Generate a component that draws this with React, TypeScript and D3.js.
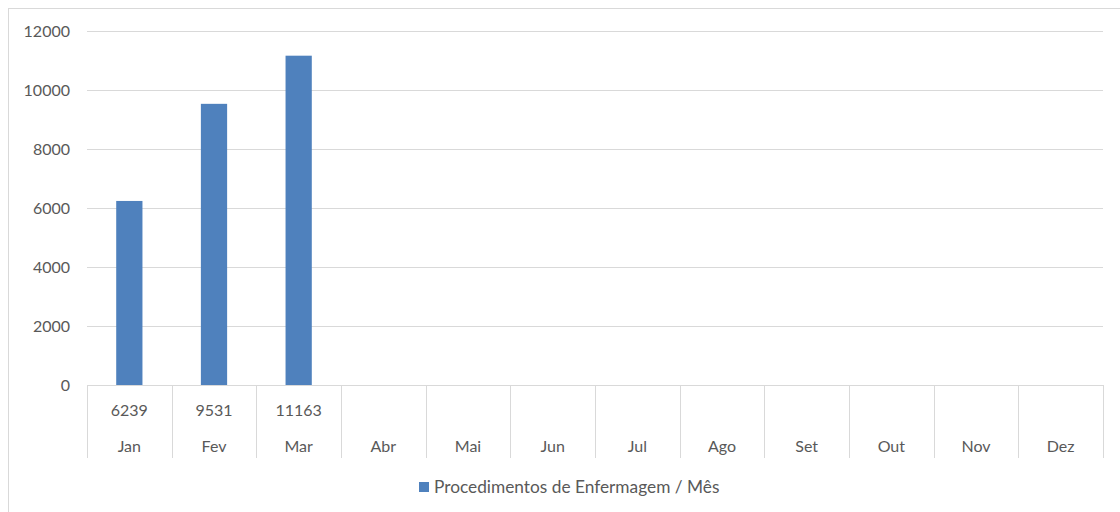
import { useRef, useEffect } from "react";
import * as d3 from "d3";

const months = ["Jan", "Fev", "Mar", "Abr", "Mai", "Jun", "Jul", "Ago", "Set", "Out", "Nov", "Dez"];
const procedures: (number | null)[] = [6239, 9531, 11163, null, null, null, null, null, null, null, null, null];
const yTicks = [0, 2000, 4000, 6000, 8000, 10000, 12000];
const seriesName = "Procedimentos de Enfermagem / Mês";

const width = 1120;
const height = 512;
const FONT = "Lato, 'Open Sans', sans-serif";
const TEXT = "#595959";
const GRID = "#D9D9D9";
const BAR = "#4F81BD";

export default function App() {
  const svgRef = useRef<SVGSVGElement>(null);

  useEffect(() => {
    if (!svgRef.current) return;
    const svg = d3.select(svgRef.current);
    svg.selectAll("*").remove();

    const plot = { left: 87, right: 1103, top: 31, bottom: 385 };
    const tableBottom = 458;

    // outer frame of the chart
    svg.append("rect")
      .attr("x", 8.5).attr("y", 8.5)
      .attr("width", width + 20).attr("height", height + 20)
      .attr("fill", "#fff").attr("stroke", GRID);

    const x = d3.scaleBand<string>()
      .domain(months)
      .range([plot.left, plot.right])
      .paddingInner(0.69)
      .paddingOuter(0.345);
    const xCat = d3.scaleBand<string>().domain(months).range([plot.left, plot.right]);

    const y = d3.scaleLinear().domain([0, 12000]).range([plot.bottom, plot.top]);

    // grid lines
    svg.append("g")
      .selectAll("line")
      .data(yTicks)
      .join("line")
      .attr("x1", plot.left)
      .attr("x2", plot.right)
      .attr("y1", d => Math.round(y(d)) + 0.5)
      .attr("y2", d => Math.round(y(d)) + 0.5)
      .attr("stroke", GRID)
      .attr("stroke-width", 1);

    svg.append("g")
      .selectAll("text")
      .data(yTicks)
      .join("text")
      .attr("x", 70)
      .attr("y", d => y(d))
      .attr("dy", "0.35em")
      .attr("text-anchor", "end")
      .attr("fill", TEXT)
      .attr("font-family", FONT)
      .attr("font-size", 16)
      .text(d => `${d}`);

    // bars
    const barData = months.map((m, i) => ({ m, v: procedures[i] })).filter(d => d.v != null) as { m: string; v: number }[];
    svg.append("g")
      .selectAll("rect")
      .data(barData)
      .join("rect")
      .attr("x", d => x(d.m)!)
      .attr("y", d => y(d.v))
      .attr("width", x.bandwidth())
      .attr("height", d => y(0) - y(d.v))
      .attr("fill", BAR);

    // data table vertical lines
    const bounds = months.map(m => xCat(m)!).concat([plot.right]);
    svg.append("g")
      .selectAll("line")
      .data(bounds)
      .join("line")
      .attr("x1", d => Math.round(d) + 0.5)
      .attr("x2", d => Math.round(d) + 0.5)
      .attr("y1", plot.bottom)
      .attr("y2", tableBottom)
      .attr("stroke", GRID);

    // data table values
    svg.append("g")
      .selectAll("text")
      .data(months)
      .join("text")
      .attr("x", d => xCat(d)! + xCat.bandwidth() / 2)
      .attr("y", 416)
      .attr("text-anchor", "middle")
      .attr("fill", TEXT)
      .attr("font-family", FONT)
      .attr("font-size", 16)
      .text((d, i) => (procedures[i] == null ? "" : `${procedures[i]}`));

    // month labels
    svg.append("g")
      .selectAll("text")
      .data(months)
      .join("text")
      .attr("x", d => xCat(d)! + xCat.bandwidth() / 2)
      .attr("y", 452)
      .attr("text-anchor", "middle")
      .attr("fill", TEXT)
      .attr("font-family", FONT)
      .attr("font-size", 16)
      .text(d => d);

    // legend
    svg.append("rect")
      .attr("x", 419).attr("y", 482)
      .attr("width", 10).attr("height", 10)
      .attr("fill", BAR);
    svg.append("text")
      .attr("x", 434)
      .attr("y", 493)
      .attr("fill", TEXT)
      .attr("font-family", FONT)
      .attr("font-size", 17.3)
      .text(seriesName);
  }, []);

  return (
    <div style={{ position: "absolute", left: 0, top: 0, width, height }}>
      <svg ref={svgRef} width={width} height={height} style={{ display: "block" }} />
    </div>
  );
}
